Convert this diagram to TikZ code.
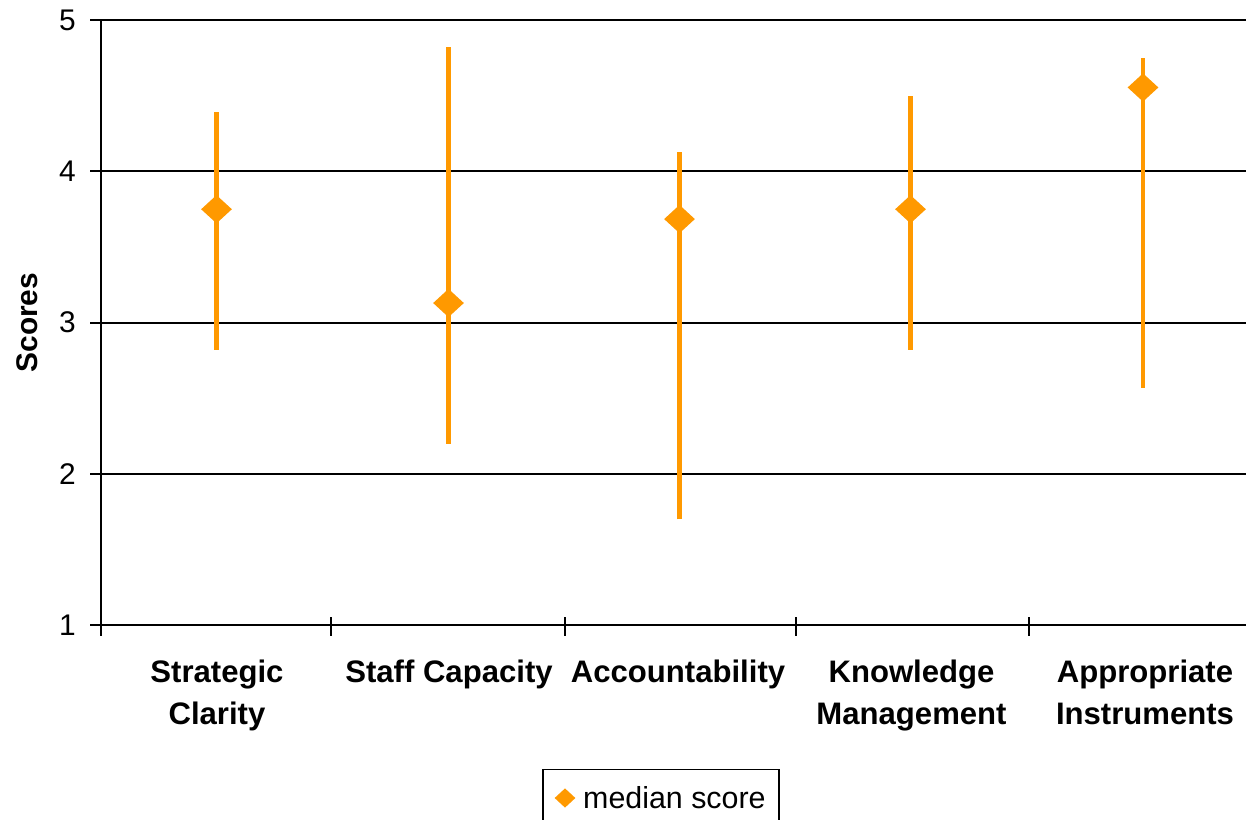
\documentclass[tikz,border=0pt]{standalone}
\usepackage{fontspec}
\setmainfont{Liberation Sans}
\usetikzlibrary{shapes.geometric,positioning}
\definecolor{barorange}{RGB}{255,153,0}

\begin{document}
\begin{tikzpicture}[x=0.02cm, y=0.02cm,
	grid/.style = {line width=1.1pt},
	bar/.style = {barorange, line width=2.7pt},
	median/.style = {diamond, fill=barorange, inner sep=0pt, minimum width=.62cm, minimum height=.57cm},
	catlabel/.style = {anchor=north, inner sep=0pt, align=center, font=\fontsize{17.7}{23.6}\selectfont\bfseries},
	ticklabel/.style = {anchor=east, inner sep=0pt, font=\fontsize{17}{20}\selectfont}]
	\useasboundingbox (0,0) rectangle (1246,819);
	\clip (0,0) rectangle (1246,819);
	\begin{scope}[yshift=.85cm, y=3.026cm]
	% grid and axes
	\draw [grid] (90,5) -- (1246,5);
	\draw [grid] (90,4) -- (1246,4);
	\draw [grid] (90,3) -- (1246,3);
	\draw [grid] (90,2) -- (1246,2);
	\draw [grid] (90,1) -- (1246,1);
	\draw [grid] (101,5) -- (101,.927);
	\draw [grid] (331,1.053) -- (331,.927);
	\draw [grid] (565,1.053) -- (565,.927);
	\draw [grid] (796,1.053) -- (796,.927);
	\draw [grid] (1029,1.053) -- (1029,.927);
	\node [ticklabel] (t5) at (76,5) {5};
	\node [ticklabel] (t4) at (76,4) {4};
	\node [ticklabel] (t3) at (76,3) {3};
	\node [ticklabel] (t2) at (76,2) {2};
	\node [ticklabel] (t1) at (76,1) {1};
	\node [rotate=90, font=\fontsize{17}{20}\selectfont\bfseries] (ylabel) at (27,3) {Scores};
	% ranges and medians
	\draw [bar] (216.5,2.82) -- (216.5,4.39);
	\draw [bar] (448.5,2.20) -- (448.5,4.82);
	\draw [bar] (679.5,1.70) -- (679.5,4.13);
	\draw [bar] (910.5,2.82) -- (910.5,4.50);
	\draw [bar] (1143,2.57) -- (1143,4.75);
	\node [median] (sc) at (216.5,3.75) {};
	\node [median] (staff) at (448.5,3.13) {};
	\node [median] (acc) at (679.5,3.685) {};
	\node [median] (km) at (910.5,3.75) {};
	\node [median] (ai) at (1143,4.555) {};
	% categories
	\node [catlabel] (lsc) at (217,.77) {Strategic\\Clarity};
	\node [catlabel] (lstaff) at (449,.77) {Staff Capacity};
	\node [catlabel] (lacc) at (678,.77) {Accountability};
	\node [catlabel] (lkm) at (911.5,.77) {Knowledge\\Management};
	\node [catlabel] (lai) at (1145,.77) {Appropriate\\Instruments};
	\end{scope}
	% legend
	\node [draw, line width=1.1pt, minimum width=4.73cm, minimum height=1.14cm, inner sep=0pt] (legend) at (661,21) {};
	\node [median, minimum width=.42cm, minimum height=.39cm] (legmark) at (565,21) {};
	\node [right=.14cm of legmark, inner sep=0pt, font=\fontsize{17.3}{20}\selectfont] (legtext) {median score};
\end{tikzpicture}
\end{document}
